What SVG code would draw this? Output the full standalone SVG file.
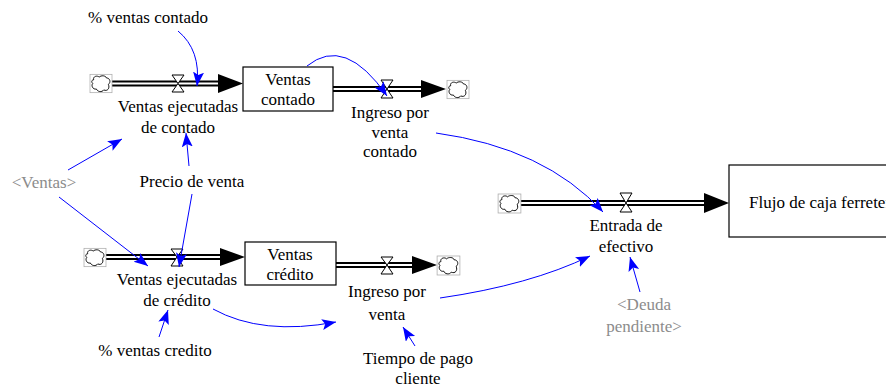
<svg xmlns="http://www.w3.org/2000/svg" width="886" height="389" viewBox="0 0 886 389">
  <defs>
    <marker id="blueHead" markerUnits="userSpaceOnUse" markerWidth="15" markerHeight="12" refX="14" refY="5.5" orient="auto">
      <path d="M0,0 L14,5.5 L0,11 L3,5.5 z" fill="#0000ff"/>
    </marker>
    <symbol id="cloud" viewBox="0 0 24 20" overflow="visible">
      <rect x="0" y="0" width="24" height="20" fill="#fff" stroke="#aaa" stroke-width="0.8"/>
      <path d="M4,6 C3,2 8,1 10,3 C12,1 17,1 18,4 C22,4 23,9 20,11 C22,15 19,19 15,17 C13,20 8,19 7,16 C3,17 1,12 3,10 C1,8 2,6 4,6 z" fill="#fff" stroke="#000" stroke-width="1"/>
    </symbol>
  </defs>
  <style>
    text { font-family: "Liberation Serif", Tinos, "Times New Roman", Times, "Noto Serif", "DejaVu Serif", serif; font-size: 17px; fill: #000; text-anchor: middle; }
    text.shadow { fill: #8c8c8c; }
    .pipeOuter { stroke: #000; stroke-width: 6; fill: none; }
    .pipeInner { stroke: #fff; stroke-width: 2; fill: none; }
    .valve { fill: #fff; stroke: #000; stroke-width: 1; }
    .stock { fill: #fff; stroke: #000; stroke-width: 1.2; }
    .head { fill: #000; }
    .link { fill: none; stroke: #0000ff; stroke-width: 1; marker-end: url(#blueHead); }
  </style>

  <!-- flow pipes -->
  <g id="pipes">
    <line class="pipeOuter" x1="110" y1="83.5" x2="222" y2="83.5"/>
    <line class="pipeInner" x1="110" y1="83.5" x2="222" y2="83.5"/>
    <polygon class="head" points="218,74 243,83.5 218,93"/>

    <line class="pipeOuter" x1="333" y1="89" x2="424" y2="89"/>
    <line class="pipeInner" x1="333" y1="89" x2="424" y2="89"/>
    <polygon class="head" points="421,80 446,89 421,98"/>

    <line class="pipeOuter" x1="105" y1="257" x2="224" y2="257"/>
    <line class="pipeInner" x1="105" y1="257" x2="224" y2="257"/>
    <polygon class="head" points="220,248 245,257 220,266"/>

    <line class="pipeOuter" x1="336" y1="265" x2="416" y2="265"/>
    <line class="pipeInner" x1="336" y1="265" x2="416" y2="265"/>
    <polygon class="head" points="412,256 437,265 412,274"/>

    <line class="pipeOuter" x1="520" y1="203" x2="709" y2="203"/>
    <line class="pipeInner" x1="520" y1="203" x2="709" y2="203"/>
    <polygon class="head" points="704,193 729,203 704,213"/>
  </g>

  <!-- sources and sinks -->
  <g id="clouds">
    <use href="#cloud" x="90" y="74" width="22" height="19"/>
    <use href="#cloud" x="447" y="80" width="22" height="19"/>
    <use href="#cloud" x="84" y="248" width="22" height="19"/>
    <use href="#cloud" x="437" y="256" width="23" height="19"/>
    <use href="#cloud" x="498" y="194" width="23" height="19"/>
  </g>

  <!-- stocks -->
  <g id="stock-ventas-contado">
    <rect class="stock" x="243" y="67" width="90" height="44"/>
    <text x="288" y="85">Ventas</text>
    <text x="288" y="105">contado</text>
  </g>
  <g id="stock-ventas-credito">
    <rect class="stock" x="245" y="242" width="91" height="43"/>
    <text x="290" y="260">Ventas</text>
    <text x="290" y="280">crédito</text>
  </g>
  <g id="stock-flujo-caja">
    <rect class="stock" x="729" y="165" width="180" height="72"/>
    <text x="749" y="208" style="text-anchor:start">Flujo de caja ferretería</text>
  </g>

  <!-- flows (valve + label) -->
  <g id="flow-ventas-ejecutadas-contado">
    <path class="valve" d="M172,75 L184,75 L178,83.5 L184,92 L172,92 L178,83.5 z"/>
    <text x="178" y="112">Ventas ejecutadas</text>
    <text x="178" y="133">de contado</text>
  </g>
  <g id="flow-ingreso-contado">
    <path class="valve" d="M381,80 L393,80 L387,89 L393,98 L381,98 L387,89 z"/>
    <text x="390" y="118">Ingreso por</text>
    <text x="390" y="138">venta</text>
    <text x="390" y="157">contado</text>
  </g>
  <g id="flow-ventas-ejecutadas-credito">
    <path class="valve" d="M171,249 L183,249 L177,257 L183,266 L171,266 L177,257 z"/>
    <text x="177" y="285">Ventas ejecutadas</text>
    <text x="177" y="306">de crédito</text>
  </g>
  <g id="flow-ingreso-credito">
    <path class="valve" d="M381,257 L393,257 L387,265 L393,274 L381,274 L387,265 z"/>
    <text x="387" y="297">Ingreso por</text>
    <text x="387" y="320">venta</text>
  </g>
  <g id="flow-entrada-efectivo">
    <path class="valve" d="M620,193 L632,193 L626,203 L632,212 L620,212 L626,203 z"/>
    <text x="626" y="231">Entrada de</text>
    <text x="626" y="252">efectivo</text>
  </g>

  <!-- auxiliaries -->
  <g id="aux-pct-contado">
    <text x="148" y="23">% ventas contado</text>
  </g>
  <g id="aux-ventas">
    <text class="shadow" x="44" y="188">&lt;Ventas&gt;</text>
  </g>
  <g id="aux-precio">
    <text x="192" y="187">Precio de venta</text>
  </g>
  <g id="aux-pct-credito">
    <text x="155" y="356">% ventas credito</text>
  </g>
  <g id="aux-tiempo-pago">
    <text x="418" y="364">Tiempo de pago</text>
    <text x="418" y="384">cliente</text>
  </g>
  <g id="aux-deuda">
    <text class="shadow" x="644" y="310">&lt;Deuda</text>
    <text class="shadow" x="644" y="332">pendiente&gt;</text>
  </g>

  <!-- information links -->
  <g id="connectors">
    <path class="link" d="M178,31 Q201,50 197,86"/>
    <path class="link" d="M307,66 Q345,35 387,96"/>
    <path class="link" d="M436,133 Q545,148 603,212"/>
    <path class="link" d="M68,170 L122,139"/>
    <path class="link" d="M59,197 L148,266"/>
    <path class="link" d="M189,166 L186,133"/>
    <path class="link" d="M192,194 L179,267"/>
    <path class="link" d="M159,337 L168,310"/>
    <path class="link" d="M213,309 Q262,336 336,322"/>
    <path class="link" d="M415,346 L403,327"/>
    <path class="link" d="M440,298 Q530,285 590,256"/>
    <path class="link" d="M640,292 L630,257"/>
  </g>
</svg>
